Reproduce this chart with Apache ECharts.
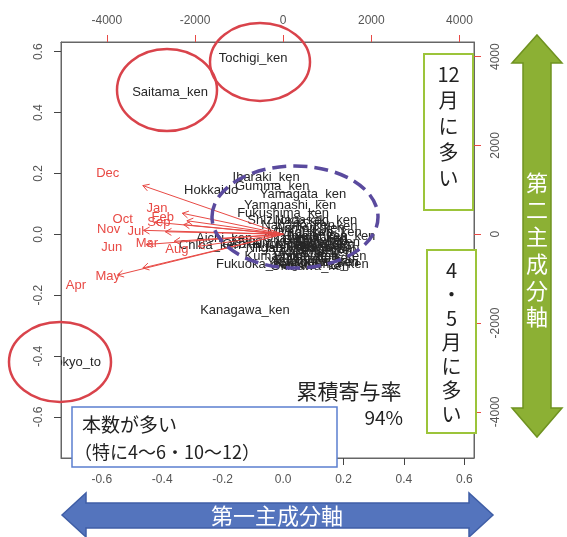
<!DOCTYPE html>
<html>
<head>
<meta charset="utf-8">
<script src="https://cdn.jsdelivr.net/npm/echarts@6/dist/echarts.min.js"></script>
<style>
html,body{margin:0;padding:0;background:#fff}
#chart{width:567px;height:537px}
</style>
</head>
<body>
<div id="chart"></div>
<script>
// Principal component scores of each prefecture (PC1, PC2)
const prefNames = [
  'Hokkaido','Aomori_ken','Iwate_ken','Miyagi_ken','Akita_ken','Yamagata_ken','Fukushima_ken',
  'Ibaraki_ken','Tochigi_ken','Gumma_ken','Saitama_ken','Chiba_ken','Tokyo_to','Kanagawa_ken',
  'Niigata_ken','Toyama_ken','Ishikawa_ken','Fukui_ken','Yamanashi_ken','Nagano_ken','Gifu_ken',
  'Shizuoka_ken','Aichi_ken','Mie_ken','Shiga_ken','Kyoto_fu','Osaka_fu','Hyogo_ken','Nara_ken',
  'Wakayama_ken','Tottori_ken','Shimane_ken','Okayama_ken','Hiroshima_ken','Yamaguchi_ken',
  'Tokushima_ken','Kagawa_ken','Ehime_ken','Kochi_ken','Fukuoka_ken','Saga_ken','Nagasaki_ken',
  'Kumamoto_ken','Oita_ken','Miyazaki_ken','Kagoshima_ken','Okinawa_ken'
];
const pc1 = [
  -0.238, 0.089, 0.116, 0.056, 0.129, 0.066, 0.000,
  -0.056, -0.099, -0.036, -0.374, -0.242, -0.689, -0.126,
  -0.010, 0.106, 0.073, 0.139, 0.023, 0.050, 0.083,
  0.017, -0.195, 0.096, 0.142, 0.056, -0.109, -0.060, 0.116,
  0.123, 0.149, 0.116, 0.073, 0.043, 0.099,
  0.156, 0.136, 0.076, 0.146, -0.093, 0.156, 0.109,
  0.023, 0.129, 0.106, 0.129, 0.089
];
const pc2 = [
  0.144, 0.020, -0.007, 0.007, -0.033, 0.131, 0.069,
  0.187, 0.577, 0.157, 0.466, -0.036, -0.420, -0.249,
  -0.046, -0.059, -0.046, -0.079, 0.095, 0.030, -0.020,
  0.046, -0.013, -0.052, -0.052, -0.092, -0.033, -0.023, -0.039,
  -0.072, -0.026, -0.092, -0.013, -0.033, -0.092,
  -0.007, 0.007, -0.072, 0.026, -0.100, -0.046, 0.046,
  -0.072, -0.020, -0.033, -0.098, -0.105
];

// Monthly loadings (variables)
const months = ['Jan','Feb','Mar','Apr','May','Jun','Jul','Aug','Sep','Oct','Nov','Dec'];
const load1 = [-2860, -2730, -3090, -4700, -3980, -3890, -3340, -2410, -2820, -3640, -3960, -3980];
const load2 = [590, 380, -200, -1150, -950, -290, 70, -340, 270, 340, 110, 1370];

// Tick positions
const scoreTicks = [-0.6, -0.4, -0.2, 0, 0.2, 0.4, 0.6];
const loadTicks = [-4000, -2000, 0, 2000, 4000];

const RED = '#e84a45';
const AXIS_COL = '#666';
const LABEL_FONT = '"Liberation Sans", Arial, sans-serif';
const JP_FONT = '"Noto Sans CJK JP", sans-serif';

const chart = echarts.init(document.getElementById('chart'), null, {renderer: 'canvas'});

function valueAxis(pos, min, max, ticks, tickColor, fmt, rotate, margin) {
  return {
    type: 'value', position: pos, min: min, max: max,
    splitLine: {show: false},
    axisLine: {show: true, onZero: false, lineStyle: {color: AXIS_COL, width: 1}},
    axisTick: {show: true, customValues: ticks, length: 7, inside: false,
               lineStyle: {color: tickColor, width: 1}},
    axisLabel: {show: true, customValues: ticks, formatter: fmt, rotate: rotate,
                margin: margin, color: '#555', fontSize: 12, fontFamily: LABEL_FONT}
  };
}

const fmtScore = v => (Math.abs(v) < 1e-9 ? 0 : v).toFixed(1);
const fmtLoad = v => String(Math.round(v));

const graphics = [];
// red ellipses around outlying prefectures
[[167, 90, 50, 41], [260, 62, 50, 39], [60, 362, 51, 40]].forEach(e => {
  graphics.push({type: 'ellipse', z: 50, shape: {cx: e[0], cy: e[1], rx: e[2], ry: e[3]},
    style: {fill: null, stroke: '#d9434b', lineWidth: 2.5}});
});
// dashed ellipse around the main cluster
graphics.push({type: 'ellipse', z: 50, shape: {cx: 295, cy: 217, rx: 83, ry: 51},
  style: {fill: null, stroke: '#5a4a9e', lineWidth: 3.5, lineDash: [14, 7]}});

// boxes on the right
graphics.push({type: 'rect', z: 50, shape: {x: 424, y: 54, width: 49, height: 156},
  style: {fill: '#fff', stroke: '#9cc43a', lineWidth: 2}});
['12', '月', 'に', '多', 'い'].forEach((c, i) => {
  graphics.push({type: 'text', z: 51, x: 448.5, y: 74 + i * 26,
    style: {text: c, fill: '#222', font: '20px ' + JP_FONT, align: 'center', verticalAlign: 'middle'}});
});
graphics.push({type: 'rect', z: 50, shape: {x: 427, y: 250, width: 49, height: 183},
  style: {fill: '#fff', stroke: '#9cc43a', lineWidth: 2}});
['4', '・', '5', '月', 'に', '多', 'い'].forEach((c, i) => {
  graphics.push({type: 'text', z: 51, x: 451.5, y: 270 + i * 24,
    style: {text: c, fill: '#222', font: '20px ' + JP_FONT, align: 'center', verticalAlign: 'middle'}});
});

// cumulative contribution
graphics.push({type: 'text', z: 51, x: 349, y: 391,
  style: {text: '累積寄与率', fill: '#222', font: '21px ' + JP_FONT, align: 'center', verticalAlign: 'middle'}});
graphics.push({type: 'text', z: 51, x: 403, y: 418,
  style: {text: '94%', fill: '#222', font: '19px ' + JP_FONT, align: 'right', verticalAlign: 'middle'}});

// blue note box
graphics.push({type: 'rect', z: 50, shape: {x: 72, y: 407, width: 265, height: 60},
  style: {fill: '#fff', stroke: '#5b7fd0', lineWidth: 1.5}});
graphics.push({type: 'text', z: 51, x: 82, y: 425,
  style: {text: '本数が多い', fill: '#222', font: '19px ' + JP_FONT, align: 'left', verticalAlign: 'middle'}});
graphics.push({type: 'text', z: 51, x: 74, y: 452,
  style: {text: '（特に4〜6・10〜12）', fill: '#222', font: '18px ' + JP_FONT, align: 'left', verticalAlign: 'middle'}});

// green vertical double arrow (second component)
graphics.push({type: 'polygon', z: 50, shape: {points: [
  [537, 35], [562, 63], [551, 63], [551, 408], [562, 408], [537, 437],
  [512, 408], [523, 408], [523, 63], [512, 63]]},
  style: {fill: '#8cb034', stroke: '#6f9220', lineWidth: 1.5}});
['第', '二', '主', '成', '分', '軸'].forEach((c, i) => {
  graphics.push({type: 'text', z: 51, x: 537, y: 183 + i * 26.8,
    style: {text: c, fill: '#fff', font: '22px ' + JP_FONT, align: 'center', verticalAlign: 'middle'}});
});

// blue horizontal double arrow (first component)
graphics.push({type: 'polygon', z: 50, shape: {points: [
  [62, 515], [86, 493], [86, 503], [469, 503], [469, 493], [493, 515],
  [469, 537], [469, 528], [86, 528], [86, 537]]},
  style: {fill: '#5474bd', stroke: '#3f5ea6', lineWidth: 1.5}});
graphics.push({type: 'text', z: 51, x: 277, y: 516,
  style: {text: '第一主成分軸', fill: '#fff', font: '22px ' + JP_FONT, align: 'center', verticalAlign: 'middle'}});

const option = {
  backgroundColor: '#fff',
  animation: false,
  grid: {left: 61, top: 42, width: 413, height: 416, containLabel: false,
         show: true, borderColor: AXIS_COL, borderWidth: 1},
  xAxis: [
    valueAxis('bottom', -0.735, 0.632, scoreTicks, '#444', fmtScore, 0, 16),
    valueAxis('top', -5040, 4330, loadTicks, RED, fmtLoad, 0, 15)
  ],
  yAxis: [
    valueAxis('left', -0.735, 0.632, scoreTicks, '#444', fmtScore, 90, 16),
    valueAxis('right', -5040, 4330, loadTicks, RED, fmtLoad, 90, 16)
  ],
  series: [
    {
      type: 'custom', name: 'scores', xAxisIndex: 0, yAxisIndex: 0, clip: true, z: 3,
      data: prefNames.map((n, i) => [pc1[i], pc2[i]]),
      renderItem: function (params, api) {
        const p = api.coord([api.value(0), api.value(1)]);
        return {type: 'text', x: p[0], y: p[1],
          style: {text: prefNames[params.dataIndex], fill: '#262626', font: '13px ' + LABEL_FONT,
                  align: 'center', verticalAlign: 'middle'}};
      }
    },
    {
      type: 'custom', name: 'loadings', xAxisIndex: 1, yAxisIndex: 1, clip: true, z: 4,
      data: months.map((m, i) => [load1[i], load2[i]]),
      renderItem: function (params, api) {
        const i = params.dataIndex;
        const o = api.coord([0, 0]);
        const t = api.coord([api.value(0) * 0.8, api.value(1) * 0.8]);
        const l = api.coord([api.value(0), api.value(1)]);
        const ang = Math.atan2(t[1] - o[1], t[0] - o[0]);
        const hl = 7, ha = Math.PI / 6;
        const h1 = [t[0] - hl * Math.cos(ang - ha), t[1] - hl * Math.sin(ang - ha)];
        const h2 = [t[0] - hl * Math.cos(ang + ha), t[1] - hl * Math.sin(ang + ha)];
        return {type: 'group', children: [
          {type: 'line', shape: {x1: o[0], y1: o[1], x2: t[0], y2: t[1]},
           style: {stroke: RED, lineWidth: 1}},
          {type: 'polyline', shape: {points: [h1, t, h2]},
           style: {stroke: RED, lineWidth: 1, fill: null}},
          {type: 'text', x: l[0], y: l[1],
           style: {text: months[i], fill: RED, font: '13px ' + LABEL_FONT,
                   align: 'center', verticalAlign: 'middle'}}
        ]};
      }
    }
  ],
  graphic: {elements: graphics}
};
chart.setOption(option);
</script>
</body>
</html>
